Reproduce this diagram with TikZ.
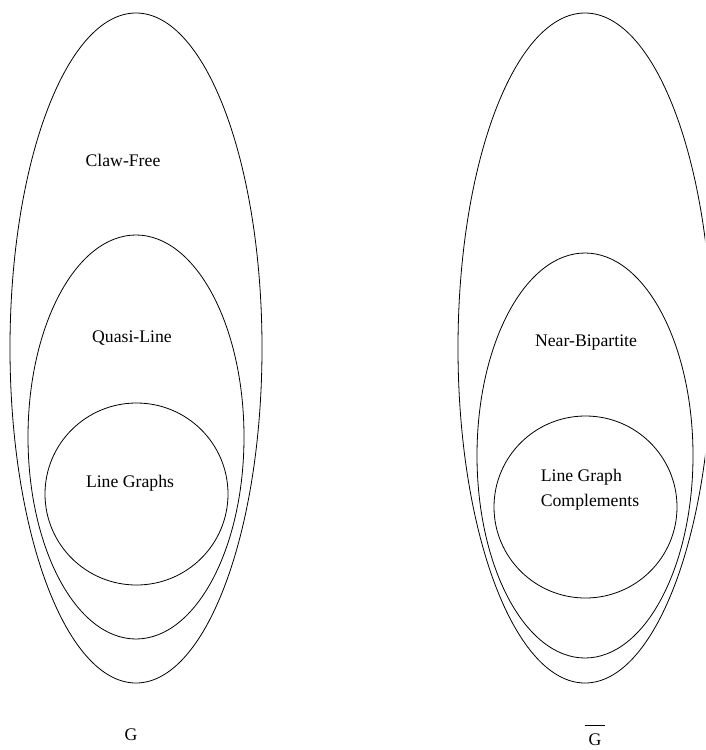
\documentclass[tikz,border=0pt]{standalone}
\usepackage{fontspec}
\setmainfont{Liberation Serif}
\usetikzlibrary{shapes.geometric}
\begin{document}
\begin{tikzpicture}[x=1pt,y=-1pt,
  set/.style={draw, ellipse, inner sep=0pt, line width=0.8pt},
  lbl/.style={font=\fontsize{17.7}{25}\selectfont, inner sep=0pt}]
\useasboundingbox (0,0) rectangle (705,750);
\clip (0,0) rectangle (705,750);
% left family
\node[set, minimum width=252pt, minimum height=670pt] (claw) at (136,348) {};
\node[set, minimum width=216pt, minimum height=404pt] (quasi) at (136,437) {};
\node[set, minimum width=183pt, minimum height=182pt] (line) at (136.5,494) {};
\node[lbl] (clawt) at (123,160) {Claw-Free};
\node[lbl] (quasit) at (132,338) {Quasi-Line};
\node[lbl] (linet) at (130,483) {Line Graphs};
\node[lbl] (g) at (131,735) {G};
% right family
\node[set, minimum width=254pt, minimum height=670pt] (co) at (585,348) {};
\node[set, minimum width=216pt, minimum height=405pt] (near) at (585,455.5) {};
\node[set, minimum width=183pt, minimum height=182pt] (lgc) at (585.5,507) {};
\node[lbl] (neart) at (586,343) {Near-Bipartite};
\node[lbl, align=left] (lgct) at (590,489.5) {Line Graph\\Complements};
\node[lbl] (gbar) at (595,740) {G};
\draw[line width=0.8pt] ([xshift=-10pt,yshift=8pt]gbar.north) -- ([xshift=9.5pt,yshift=8pt]gbar.north);
\end{tikzpicture}
\end{document}
